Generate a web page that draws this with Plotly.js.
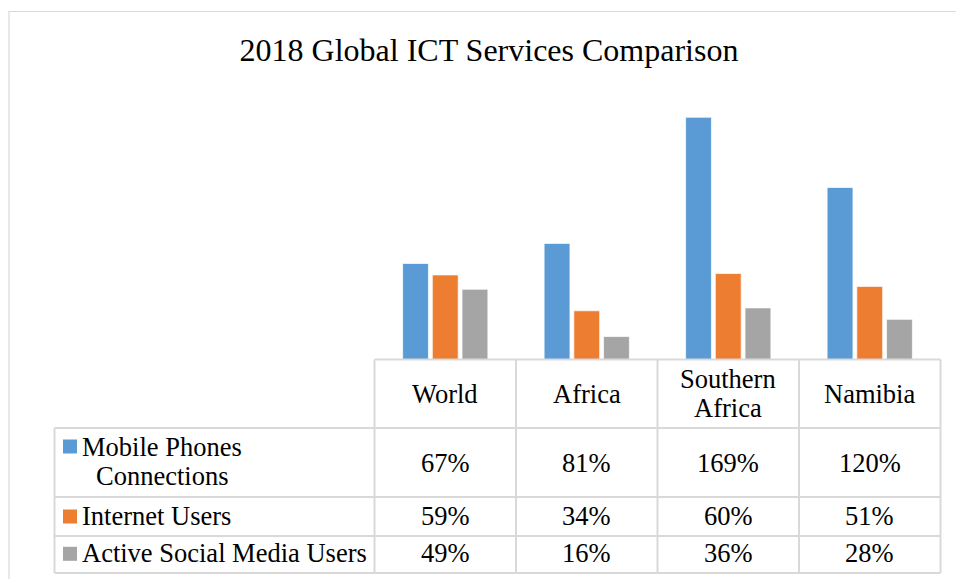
<!DOCTYPE html>
<html>
<head>
<meta charset="utf-8">
<script src="https://cdn.plot.ly/plotly-3.0.1.min.js"></script>
<style>html,body{margin:0;padding:0;background:#fff;}#chart{width:956px;height:579px;}</style>
</head>
<body>
<div id="chart"></div>
<script>
// ---- data ----
const categories = ["World", "Africa", "Southern Africa", "Namibia"];
const categoryLabels = ["World", "Africa", "Southern<br>Africa", "Namibia"];
const seriesNames = ["Mobile Phones Connections", "Internet Users", "Active Social Media Users"];
const seriesLabels = ["Mobile Phones<br>Connections", "Internet Users", "Active Social Media Users"];
const mobilePhones = [67, 81, 169, 120];
const internetUsers = [59, 34, 60, 51];
const socialMedia = [49, 16, 36, 28];
const seriesColors = ["#5B9BD5", "#ED7D31", "#A5A5A5"];
const chartTitle = "2018 Global ICT Services Comparison";

// ---- geometry helpers (pixel -> paper) ----
const W = 956, H = 579;
const px = x => x / W;
const py = y => 1 - y / H;

const FONT = "Liberation Serif";
const LINE = "#D9D9D9";
const LINE_GAP = 29;

const seriesValues = [mobilePhones, internetUsers, socialMedia];

const traces = seriesValues.map((vals, i) => ({
  type: "bar",
  name: seriesNames[i],
  x: categories,
  y: vals,
  marker: { color: seriesColors[i], line: { color: "rgba(255,255,255,0.7)", width: 1 } },
  hoverinfo: "skip"
}));

// table column borders (pixels)
const colX = [374.5, 516, 657.5, 799, 940.5];
const tableLeft = 54.5;
const rowY = [359.5, 428, 497, 536, 573];

const shapes = [];
const lineStyle = { color: LINE, width: 2 };
// outer chart border
shapes.push({ type: "rect", xref: "paper", yref: "paper", x0: px(9), x1: px(980), y0: py(11.5), y1: py(600), line: { color: LINE, width: 1.2 }, fillcolor: "rgba(0,0,0,0)" });
// horizontal lines
shapes.push({ type: "line", xref: "paper", yref: "paper", x0: px(colX[0]), x1: px(colX[4]), y0: py(rowY[0]), y1: py(rowY[0]), line: lineStyle });
for (let r = 1; r < rowY.length; r++) {
  shapes.push({ type: "line", xref: "paper", yref: "paper", x0: px(tableLeft), x1: px(colX[4]), y0: py(rowY[r]), y1: py(rowY[r]), line: lineStyle });
}
// vertical lines
colX.forEach(x => {
  shapes.push({ type: "line", xref: "paper", yref: "paper", x0: px(x), x1: px(x), y0: py(rowY[0]), y1: py(rowY[4]), line: lineStyle });
});
shapes.push({ type: "line", xref: "paper", yref: "paper", x0: px(tableLeft), x1: px(tableLeft), y0: py(rowY[1]), y1: py(rowY[4]), line: lineStyle });

// legend keys
const keyTop = [439.5, 509.5, 546.8];
seriesColors.forEach((c, i) => {
  shapes.push({ type: "rect", xref: "paper", yref: "paper", x0: px(63), x1: px(77), y0: py(keyTop[i]), y1: py(keyTop[i] + 14), fillcolor: c, line: { width: 0 } });
});

const annotations = [];
const cellFont = { family: FONT, size: 26.5, color: "#000" };
function lineYs(center, n) {
  const out = [];
  for (let k = 0; k < n; k++) out.push(center + (k - (n - 1) / 2) * LINE_GAP);
  return out;
}
// header row
categories.forEach((c, j) => {
  const lines = categoryLabels[j].split("<br>");
  const ys = lineYs(393.7, lines.length);
  lines.forEach((t, k) => {
    annotations.push({ xref: "x", yref: "paper", x: c, y: py(ys[k]), text: t, showarrow: false, font: cellFont, xanchor: "center", yanchor: "middle" });
  });
});
// value rows
const rowCenters = [463.3, 515.8, 553.4];
const legendCenters = [461.5, 515.7, 553.3];
seriesValues.forEach((vals, i) => {
  vals.forEach((v, j) => {
    annotations.push({ xref: "x", yref: "paper", x: categories[j], y: py(rowCenters[i]), text: v + "%", showarrow: false, font: cellFont, xanchor: "center", yanchor: "middle" });
  });
  const lines = seriesLabels[i].split("<br>");
  const ys = lineYs(legendCenters[i], lines.length);
  lines.forEach((t, k) => {
    if (k === 0) {
      annotations.push({ xref: "paper", yref: "paper", x: px(80), y: py(ys[k]), text: t, showarrow: false, font: cellFont, xanchor: "left", yanchor: "middle" });
    } else {
      annotations.push({ xref: "paper", yref: "paper", x: px(162.5), y: py(ys[k]), text: t, showarrow: false, font: cellFont, xanchor: "center", yanchor: "middle" });
    }
  });
});

const layout = {
  width: W, height: H,
  margin: { l: 0, r: 0, t: 0, b: 0 },
  font: { family: FONT },
  paper_bgcolor: "#fff", plot_bgcolor: "rgba(0,0,0,0)",
  title: { text: chartTitle, font: { family: FONT, size: 32, color: "#000" }, x: px(489), xanchor: "center", y: py(49.7), yanchor: "middle", xref: "paper", yref: "container" },
  showlegend: false,
  barmode: "group",
  bargap: 0.37,
  bargroupgap: 0.13,
  xaxis: { domain: [px(colX[0]), px(colX[4])], showticklabels: false, showgrid: false, zeroline: false, showline: false, ticks: "", fixedrange: true },
  yaxis: { domain: [py(359.5), py(101.5)], range: [0, 180], showticklabels: false, showgrid: false, zeroline: false, showline: false, ticks: "", fixedrange: true },
  shapes: shapes,
  annotations: annotations
};

Plotly.newPlot("chart", traces, layout, { displayModeBar: false, staticPlot: true });
</script>
</body>
</html>
